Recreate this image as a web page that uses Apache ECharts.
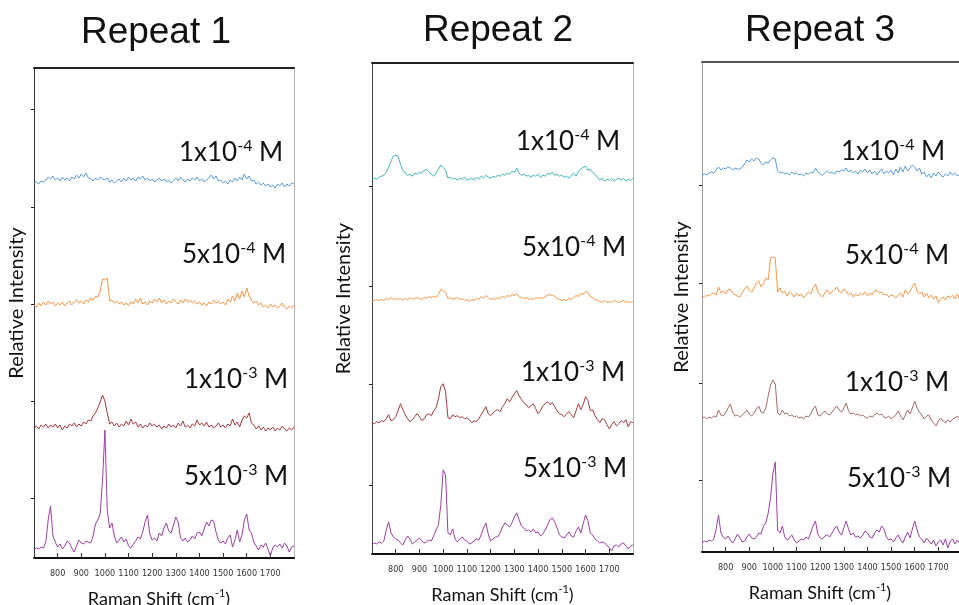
<!DOCTYPE html>
<html><head><meta charset="utf-8">
<script src="https://cdn.jsdelivr.net/npm/echarts@6/dist/echarts.min.js"></script>
<style>html,body{margin:0;padding:0;background:#fff}#c{width:959px;height:605px}</style>
</head><body><div id="c"></div>
<script>
const shifts = [700,710,720,730,740,750,760,770,780,790,
800,810,820,830,840,850,860,870,880,890,
900,910,920,930,940,950,960,970,980,990,
1000,1010,1020,1030,1040,1050,1060,1070,1080,1090,
1100,1110,1120,1130,1140,1150,1160,1170,1180,1190,
1200,1210,1220,1230,1240,1250,1260,1270,1280,1290,
1300,1310,1320,1330,1340,1350,1360,1370,1380,1390,
1400,1410,1420,1430,1440,1450,1460,1470,1480,1490,
1500,1510,1520,1530,1540,1550,1560,1570,1580,1590,
1600,1610,1620,1630,1640,1650,1660,1670,1680,1690,
1700,1710,1720,1730,1740,1750,1760,1770,1780,1790,1800];
const xTickLabels = [800,900,1000,1100,1200,1300,1400,1500,1600,1700];
const panelTitles = ['Repeat 1','Repeat 2','Repeat 3'];
const concBase = ['1x10','5x10','1x10','5x10'];
const concExp = ['-4','-4','-3','-3'];

// Repeat 1
const r1_1e4 = [0,1,-1,2,1,3,6,4,7,3, 5,2,6,3,5,2,6,4,8,5, 9,6,10,5,4,2,5,3,6,4, 3,5,1,3,0,2,4,1,5,2, 6,3,5,2,6,4,7,3,5,2, 4,1,3,5,2,4,1,3,0,2, 5,2,6,3,1,4,2,5,3,6, 2,4,1,3,5,8,4,7,2,3, 0,2,-1,3,1,5,2,6,3,9, 4,7,2,3,-1,1,-2,0,-3,-1, -4,-2,-5,-1,-3,0,-4,-1,-3,0,-1];
const r1_5e4 = [0,-2,2,-1,3,0,4,1,3,-1, 2,0,3,-1,2,4,0,3,5,2, 4,1,5,3,7,5,9,8,14,26, 25,27,4,5,2,4,1,3,0,2, -1,3,1,6,2,7,1,3,0,4, 2,6,3,7,2,5,1,4,2,6, 3,1,5,2,6,3,5,2,4,1, 3,0,2,-1,3,1,5,2,4,1, 3,0,6,3,9,4,12,6,14,8, 17,9,5,2,4,0,2,-2,0,-3, 1,-2,0,-3,-1,2,-2,-4,-1,-3,0];
const r1_1e3 = [0,2,-1,3,1,4,0,3,1,4, 0,3,-2,2,0,4,2,5,1,4, 2,6,4,8,7,12,15,20,26,33, 27,15,4,6,2,5,1,4,2,7, 3,9,4,6,1,4,0,3,1,5, 2,4,1,3,-1,2,0,4,1,3, 0,5,2,7,1,3,0,4,2,8, 3,5,2,6,1,3,0,2,5,1, 3,0,4,2,9,3,6,1,8,12, 10,15,5,3,-1,2,-2,1,-3,0, -2,1,-3,0,-2,2,-1,-3,0,-2,1];
const r1_5e3 = [0,2,1,3,2,8,30,44,14,8, 3,6,1,4,9,7,2,-2,4,10, 7,6,9,8,7,14,26,30,36,70, 120,40,22,27,14,7,10,13,8,11, 4,2,6,9,13,11,18,28,35,16, 10,12,9,17,14,22,27,19,17,25, 33,28,12,9,12,8,10,14,11,17, 18,14,21,28,24,30,29,18,10,7, 9,6,12,15,3,10,20,8,15,30, 36,20,17,8,4,0,5,3,7,1, -6,2,5,3,6,2,7,4,-2,3,4];
// Repeat 2
const r2_1e4 = [0,1,0,2,3,4,7,12,18,23, 24,23,15,9,6,4,5,3,6,5, 7,6,9,10,7,5,3,6,10,14, 12,9,1,2,0,1,-1,1,0,2, -1,0,1,-1,2,0,3,1,4,2, 1,3,2,4,3,5,4,6,5,8, 7,11,6,4,5,3,4,2,4,3, 5,2,4,3,6,5,7,4,5,3, 4,2,3,1,4,6,3,8,10,12, 13,9,10,7,5,2,-1,1,-2,0, -1,1,-2,0,1,-1,1,-2,0,-1,1];
const r2_5e4 = [-1,0,1,0,1,0,2,1,3,1, 2,1,2,0,2,1,3,1,2,3, 2,1,3,2,4,3,4,3,6,11, 10,8,2,3,1,2,3,1,2,0, 1,-1,1,0,2,1,4,2,5,3, 1,2,1,3,2,4,3,5,4,6, 5,7,4,3,2,3,1,2,1,3, 2,3,2,4,5,6,5,4,2,1, 0,1,0,2,1,3,5,4,7,6, 9,8,4,3,1,0,-1,-2,0,-2, -1,-2,0,-1,-2,-1,0,-2,-1,-2,-1];
const r2_1e3 = [0,-1,1,0,2,1,4,8,2,3, 6,12,19,13,8,4,1,3,6,9, 6,2,4,8,9,7,12,15,24,36, 39,31,5,4,8,6,7,5,6,4, 5,3,0,2,1,4,8,12,16,9, 7,10,12,13,11,16,19,24,21,25, 29,32,27,23,20,18,15,17,19,14, 9,12,17,19,21,18,20,16,12,9, 8,6,9,11,8,5,12,19,13,18, 26,22,12,13,7,3,0,4,3,-2, -6,-2,1,-3,-1,2,0,3,-4,1,0];
const r2_5e3 = [0,2,1,3,2,4,15,23,12,8, 6,5,2,0,5,9,6,1,3,5, 7,4,2,3,5,4,9,15,20,40, 75,70,12,10,16,6,3,6,8,5, 4,1,2,4,6,5,10,17,22,11, 4,6,8,8,12,18,22,20,18,22, 28,32,25,19,17,14,15,13,16,12, 13,9,11,15,20,25,27,23,17,10, 8,7,10,13,9,8,14,18,12,21, 30,24,12,10,6,4,2,3,2,0, -3,-6,-1,0,-2,1,2,-1,-4,-1,0];
// Repeat 3
const r3_1e4 = [0,1,0,2,3,2,5,8,5,7, 6,8,7,5,7,6,6,8,11,15, 13,16,14,17,16,12,10,13,12,15, 17,16,4,2,3,1,2,0,3,1, 2,0,1,-1,2,1,3,2,7,3, 1,0,2,4,2,3,1,4,3,5, 4,7,3,5,2,4,1,5,3,6, 2,5,1,4,0,3,6,1,4,2, 5,0,6,2,8,3,9,4,7,10, 8,4,7,1,3,-2,1,-3,2,-1, 3,0,-2,1,-1,3,0,2,-1,1,0];
const r3_5e4 = [0,-1,1,0,2,3,1,9,3,5, 2,6,7,3,1,0,-1,3,7,10, 6,4,8,13,15,9,12,18,16,38, 39,38,4,8,3,5,0,4,2,-1, 3,0,2,-2,1,4,2,8,12,4, 1,-1,3,6,2,4,6,9,5,3, 7,5,1,3,-1,2,0,3,1,4, 0,3,1,5,6,3,4,1,2,-1, 1,0,-2,1,3,-1,6,2,4,9, 13,5,2,4,-1,3,-2,1,-3,0, -7,-3,-1,-4,0,-2,1,-3,2,-4,-2];
const r3_1e3 = [0,1,-1,1,0,2,1,8,3,2, 5,10,14,6,2,3,1,3,5,8, 4,2,5,9,12,6,5,10,22,33, 38,34,5,3,8,4,5,2,3,1, 2,0,1,-1,2,1,4,9,12,3, 2,5,7,4,3,6,9,12,8,6, 10,15,7,4,5,3,4,2,3,1, 0,2,1,3,5,3,4,1,0,2, -1,1,3,7,2,-2,3,8,4,10, 17,10,6,3,-1,2,3,-2,-5,-8, -3,0,-3,-5,-2,-4,-1,0,2,-2,0];
const r3_5e3 = [0,2,1,3,2,4,14,28,10,6, 4,7,3,0,4,9,5,1,2,6, 9,5,4,6,10,9,17,20,30,45, 70,81,13,10,17,6,3,5,8,3, 0,2,4,3,6,4,10,17,22,9, 5,4,7,8,6,10,14,17,11,8, 15,22,14,8,10,6,7,5,8,12, 10,6,5,10,13,11,17,14,6,3, 4,1,5,8,3,0,6,11,5,14, 22,13,6,4,0,5,2,-1,3,-3, 1,3,-2,4,-5,2,4,-1,3,0,1];

const panelSpectra = [[r1_1e4,r1_5e4,r1_1e3,r1_5e3],[r2_1e4,r2_5e4,r2_1e3,r2_5e3],[r3_1e4,r3_5e4,r3_1e3,r3_5e3]];
const stackOffsets = [[375,253,130,8],[374,253,131,9],[377,256,134,9]];
const yTickValues = [[60,157,254,351,449],[69,169,267,367],[72,169,269,367]];

const panelColors = [
  ['#5b9bd5','#f79646','#a33b3b','#9c3fa3'],
  ['#3fb6b8','#f79646','#a23c3a','#9c3fa3'],
  ['#5b9bd5','#f79646','#a56b6b','#9c3fa3']
];
const grids = [
  {left:34, top:68, width:260, height:490, outerBoundsMode:'none', containLabel:false},
  {left:372, top:63, width:261, height:491, outerBoundsMode:'none', containLabel:false},
  {left:702, top:62, width:260, height:490, outerBoundsMode:'none', containLabel:false}
];
const leftAxisColor = ['#333','#444','#999'];
const topAxisColor = ['#222','#222','#555'];
const xNamePad = [[0,10,0,0],[0,0,0,0],[0,24,0,0]];
const yNameGap = [7,18,10];
const titlePos = [[156,33],[498,31],[820,31]];
const labelPos = [
  [[179,153],[182,255],[184,380],[184,477]],
  [[516,142],[522,248],[521,373],[523,469]],
  [[841,152],[845,256],[845,383],[847,479]]
];
const narrowFont = '"Liberation Sans Narrow", "DejaVu Sans Condensed", "Liberation Sans", sans-serif';

const xAxes = [], yAxes = [], series = [], graphics = [];
for (let p = 0; p < 3; p++) {
  xAxes.push({
    gridIndex:p, type:'value', min:700, max:1800, interval:100,
    name:'{a|Raman Shift (cm}{s|-1}{a|)}', nameLocation:'middle', nameGap:30,
    nameTextStyle:{padding:xNamePad[p], rich:{a:{fontSize:18,fontFamily:'Lato',color:'#111',lineHeight:22}, s:{fontSize:11,fontFamily:'Lato',color:'#111',verticalAlign:'top',lineHeight:12}}},
    axisLine:{show:true, onZero:false, lineStyle:{color:'#111', width:2}},
    axisTick:{show:true, inside:true, length:5, lineStyle:{color:'#333'}},
    axisLabel:{showMinLabel:false, showMaxLabel:false, fontSize:9, fontFamily:narrowFont, color:'#333', margin:11,
      formatter: v => String(v)},
    splitLine:{show:false}
  });
  yAxes.push({
    gridIndex:p, type:'value', min:0, max:490,
    name:'Relative Intensity', nameLocation:'middle', nameGap:yNameGap[p],
    nameTextStyle:{fontSize:20, fontFamily:'Lato', color:'#111', padding:[0,0,0,20]},
    axisLine:{show:true, onZero:false, lineStyle:{color:leftAxisColor[p], width:1}},
    axisTick:{show:true, length:3, customValues:yTickValues[p], lineStyle:{color:'#222'}},
    axisLabel:{show:false, customValues:yTickValues[p]},
    splitLine:{show:false}
  });
  panelSpectra[p].forEach((vals, k) => {
    series.push({
      type:'line', xAxisIndex:p, yAxisIndex:p, showSymbol:false, symbol:'none',
      lineStyle:{width:1, color:panelColors[p][k]}, silent:true,
      data: shifts.map((x, i) => [x, stackOffsets[p][k] + vals[i]])
    });
    graphics.push({
      type:'text', x:labelPos[p][k][0], y:labelPos[p][k][1],
      style:{text:'{a|' + concBase[k] + '}{s|' + concExp[k] + '}{a| M}', verticalAlign:'middle',
        rich:{a:{fontSize:26, fontFamily:'Lato', fill:'#111', lineHeight:30}, s:{fontSize:16, fontFamily:'Lato', fill:'#111', verticalAlign:'top', lineHeight:17}}}
    });
  });
  graphics.push({
    type:'text', x:titlePos[p][0], y:titlePos[p][1],
    style:{text:panelTitles[p], align:'center', verticalAlign:'middle', fontSize:37, fontFamily:'Liberation Sans', fill:'#111'}
  });
}
for (let p = 0; p < 3; p++) {
  xAxes.push({gridIndex:p, type:'value', position:'top', min:700, max:1800,
    axisLine:{show:true, onZero:false, lineStyle:{color:topAxisColor[p], width:2}}, axisTick:{show:false}, axisLabel:{show:false}, splitLine:{show:false}});
  yAxes.push({gridIndex:p, type:'value', position:'right', min:0, max:490,
    axisLine:{show:p < 2, onZero:false, lineStyle:{color:'#b5b5b5', width:1}}, axisTick:{show:false}, axisLabel:{show:false}, splitLine:{show:false}});
}

const chart = echarts.init(document.getElementById('c'), null, {renderer:'canvas'});
chart.setOption({
  animation:false,
  backgroundColor:'#fff',
  grid:grids,
  xAxis:xAxes,
  yAxis:yAxes,
  series:series,
  graphic:graphics
});
</script></body></html>
